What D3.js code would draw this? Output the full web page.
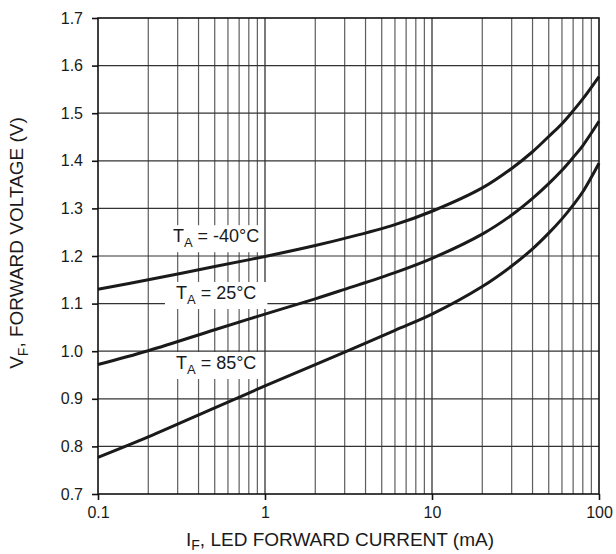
<!DOCTYPE html>
<html>
<head>
<meta charset="utf-8">
<script src="https://cdn.jsdelivr.net/npm/d3@7"></script>
<style>
  body { margin: 0; background: #fff; }
  text { font-family: "Liberation Sans", Arial, Helvetica, sans-serif; fill: #1a1a1a; }
</style>
</head>
<body>
<svg id="chart" width="616" height="554"></svg>
<script>
// ---- data ----
const currents = [0.1, 0.2, 0.5, 1, 2, 3, 6, 10, 20, 30, 40, 50, 60, 70, 80, 100];
const vfMinus40 = [1.130, 1.150, 1.178, 1.199, 1.222, 1.237, 1.266, 1.294, 1.343, 1.384, 1.419, 1.451, 1.478, 1.505, 1.530, 1.577];
const vf25      = [0.972, 1.001, 1.045, 1.078, 1.110, 1.130, 1.165, 1.195, 1.246, 1.286, 1.321, 1.352, 1.380, 1.407, 1.432, 1.483];
const vf85      = [0.777, 0.820, 0.881, 0.927, 0.972, 0.998, 1.044, 1.078, 1.136, 1.179, 1.215, 1.248, 1.278, 1.307, 1.335, 1.395];
const seriesNames = ["-40°C", "25°C", "85°C"];
const labelI = [0.281, 0.293, 0.293];
const labelV = [1.229, 1.1097, 0.9626];
const xTicks = [0.1, 1, 10, 100];
const xTickLabels = ["0.1", "1", "10", "100"];
const yTicks = [0.7, 0.8, 0.9, 1.0, 1.1, 1.2, 1.3, 1.4, 1.5, 1.6, 1.7];
const xTitle = ["I", "F", ", LED FORWARD CURRENT (mA)"];
const yTitle = ["V", "F", ", FORWARD VOLTAGE (V)"];

// ---- layout ----
const svg = d3.select("#chart");
const m = { left: 98, top: 18, right: 17, bottom: 60 };
const W = 616 - m.left - m.right;
const H = 554 - m.top - m.bottom;
const g = svg.append("g").attr("transform", `translate(${m.left},${m.top})`);

const x = d3.scaleLog().domain([0.1, 100]).range([0, W]);
const y = d3.scaleLinear().domain([0.7, 1.7]).range([H, 0]);

// grid: vertical
const vGrid = [];
[0.1, 1, 10].forEach(d => { for (let k = 1; k <= 9; k++) vGrid.push(d * k); });
g.append("g").selectAll("line").data(vGrid.filter(v => v > 0.1 && v < 100)).join("line")
  .attr("x1", d => x(d)).attr("x2", d => x(d))
  .attr("y1", 0).attr("y2", H)
  .attr("stroke", d => (Math.abs(Math.log10(d) - Math.round(Math.log10(d))) < 1e-9) ? "#222" : "#5e5e5e")
  .attr("stroke-width", 1.2);

// grid: horizontal
g.append("g").selectAll("line").data(yTicks.slice(1, -1)).join("line")
  .attr("x1", 0).attr("x2", W)
  .attr("y1", d => y(d)).attr("y2", d => y(d))
  .attr("stroke", "#333").attr("stroke-width", 1.2);

// curves
const series = [vfMinus40, vf25, vf85];
const line = d3.line().x(d => x(d[0])).y(d => y(d[1])).curve(d3.curveCatmullRom.alpha(0.5));
g.append("g").selectAll("path").data(series).join("path")
  .attr("d", s => line(currents.map((c, i) => [c, s[i]])))
  .attr("fill", "none").attr("stroke", "#1a1a1a").attr("stroke-width", 3);

// labels with white boxes
const pads = [3, 11, 3];
const lg = g.append("g");
seriesNames.forEach((name, i) => {
  const grp = lg.append("g");
  const t = grp.append("text")
    .attr("x", x(labelI[i])).attr("y", y(labelV[i]))
    .attr("font-size", 18);
  t.append("tspan").text("T");
  t.append("tspan").text("A").attr("font-size", 13).attr("dy", 5);
  t.append("tspan").text(" = " + name).attr("dy", -5);
  const bb = t.node().getBBox();
  grp.insert("rect", "text")
    .attr("x", bb.x - pads[i]).attr("y", bb.y - 1)
    .attr("width", bb.width + 2 * pads[i]).attr("height", bb.height + 3)
    .attr("fill", "#fff");
});

// frame
g.append("rect").attr("x", 0).attr("y", 0).attr("width", W).attr("height", H)
  .attr("fill", "none").attr("stroke", "#111").attr("stroke-width", 1.6);

// axes
const xAxis = g.append("g").attr("transform", `translate(0,${H})`)
  .call(d3.axisBottom(x).tickValues(xTicks).tickFormat((d, i) => xTickLabels[i]).tickSize(6).tickPadding(7));
const yAxis = g.append("g")
  .call(d3.axisLeft(y).tickValues(yTicks).tickFormat(d3.format(".1f")).tickSize(6).tickPadding(9));
[xAxis, yAxis].forEach(a => {
  a.select(".domain").remove();
  a.selectAll(".tick line").attr("stroke", "#111").attr("stroke-width", 1.6);
  a.selectAll(".tick text").attr("font-size", 16).attr("fill", "#1a1a1a")
    .attr("font-family", '"Liberation Sans", Arial, sans-serif');
});

// axis titles
const xt = svg.append("text").attr("x", 340).attr("y", 546)
  .attr("text-anchor", "middle").attr("font-size", 19);
xt.append("tspan").text(xTitle[0]);
xt.append("tspan").text(xTitle[1]).attr("font-size", 14).attr("dy", 4);
xt.append("tspan").text(xTitle[2]).attr("dy", -4);

const yt = svg.append("text").attr("transform", `translate(23,243) rotate(-90)`)
  .attr("text-anchor", "middle").attr("font-size", 19);
yt.append("tspan").text(yTitle[0]);
yt.append("tspan").text(yTitle[1]).attr("font-size", 14).attr("dy", 5);
yt.append("tspan").text(yTitle[2]).attr("dy", -5);
</script>
</body>
</html>
